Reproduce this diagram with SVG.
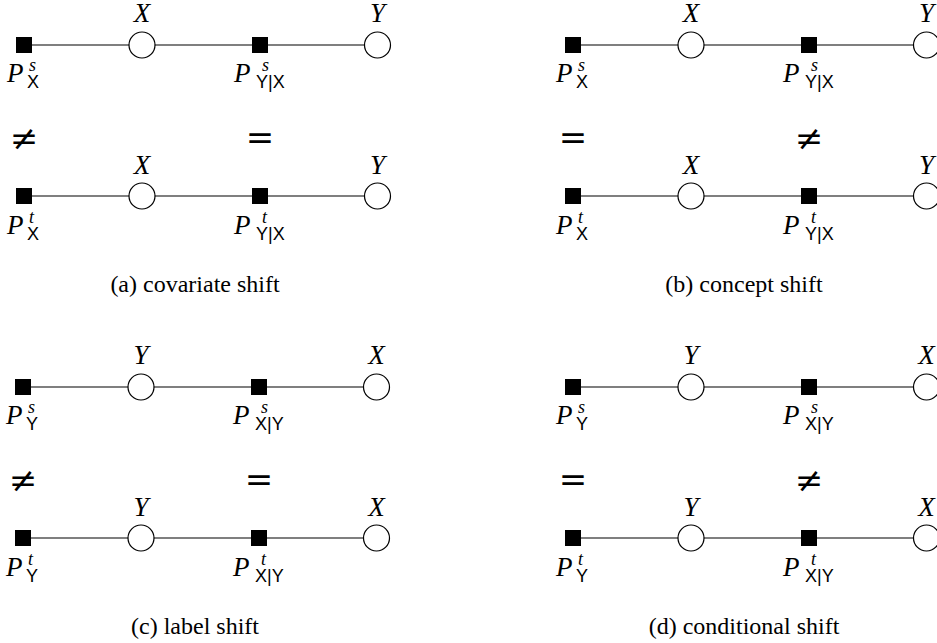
<svg xmlns="http://www.w3.org/2000/svg" width="937" height="643" viewBox="0 0 937 643">
<defs>
<style>
.ln{stroke:#000;stroke-width:1.1;fill:none}
.sq{fill:#000}
.ci{fill:#fff;stroke:#000;stroke-width:1.2}
.mi{font-family:"Liberation Serif",serif;font-style:italic;font-size:27px;fill:#000}
.mt{text-anchor:middle}
.sp{font-family:"Liberation Serif",serif;font-style:italic;font-size:18px;fill:#000}
.sb{font-family:"Liberation Sans",sans-serif;font-size:18px;fill:#000}
.rel{font-family:"DejaVu Serif",serif;font-size:34px;fill:#000;text-anchor:middle}
.cap{font-family:"Liberation Serif",serif;font-size:24px;fill:#000;text-anchor:middle}
</style>
</defs>
<rect width="937" height="643" fill="#fff"/>

<!-- Panel a -->
<g id="panel-a">
<g id="a-connectors">
<line class="ln" x1="24" y1="45" x2="364.5" y2="45"/>
<line class="ln" x1="24" y1="196" x2="364.5" y2="196"/>
</g>
<g id="a-ps1"><rect class="sq" x="16" y="37" width="16" height="16"/><text class="mi" x="7" y="82">P</text><text class="sp" x="29" y="71">s</text><text class="sb" x="27" y="88">X</text></g>
<g id="a-x1"><circle class="ci" cx="142" cy="45" r="13"/><text class="mi mt" x="142" y="22">X</text></g>
<g id="a-ps2"><rect class="sq" x="252" y="37" width="16" height="16"/><text class="mi" x="234" y="82">P</text><text class="sp" x="262" y="71">s</text><text class="sb" x="256" y="88">Y|X</text></g>
<g id="a-y1"><circle class="ci" cx="377.5" cy="45" r="13"/><text class="mi mt" x="377.5" y="22">Y</text></g>
<g id="a-rel"><text class="rel" x="24" y="150">≠</text><text class="rel" x="260" y="149">=</text></g>
<g id="a-pt1"><rect class="sq" x="16" y="188" width="16" height="16"/><text class="mi" x="7" y="234">P</text><text class="sp" x="29" y="223">t</text><text class="sb" x="27" y="240">X</text></g>
<g id="a-x2"><circle class="ci" cx="142" cy="196" r="13"/><text class="mi mt" x="142" y="174">X</text></g>
<g id="a-pt2"><rect class="sq" x="252" y="188" width="16" height="16"/><text class="mi" x="234" y="234">P</text><text class="sp" x="262" y="223">t</text><text class="sb" x="256" y="240">Y|X</text></g>
<g id="a-y2"><circle class="ci" cx="377.5" cy="196" r="13"/><text class="mi mt" x="377.5" y="174">Y</text></g>
<text class="cap" x="195" y="292">(a) covariate shift</text>
</g>

<!-- Panel b -->
<g id="panel-b" transform="translate(549,0)">
<g id="b-connectors">
<line class="ln" x1="24" y1="45" x2="364.5" y2="45"/>
<line class="ln" x1="24" y1="196" x2="364.5" y2="196"/>
</g>
<g id="b-ps1"><rect class="sq" x="16" y="37" width="16" height="16"/><text class="mi" x="7" y="82">P</text><text class="sp" x="29" y="71">s</text><text class="sb" x="27" y="88">X</text></g>
<g id="b-x1"><circle class="ci" cx="142" cy="45" r="13"/><text class="mi mt" x="142" y="22">X</text></g>
<g id="b-ps2"><rect class="sq" x="252" y="37" width="16" height="16"/><text class="mi" x="234" y="82">P</text><text class="sp" x="262" y="71">s</text><text class="sb" x="256" y="88">Y|X</text></g>
<g id="b-y1"><circle class="ci" cx="377.5" cy="45" r="13"/><text class="mi mt" x="377.5" y="22">Y</text></g>
<g id="b-rel"><text class="rel" x="24" y="149">=</text><text class="rel" x="260" y="150">≠</text></g>
<g id="b-pt1"><rect class="sq" x="16" y="188" width="16" height="16"/><text class="mi" x="7" y="234">P</text><text class="sp" x="29" y="223">t</text><text class="sb" x="27" y="240">X</text></g>
<g id="b-x2"><circle class="ci" cx="142" cy="196" r="13"/><text class="mi mt" x="142" y="174">X</text></g>
<g id="b-pt2"><rect class="sq" x="252" y="188" width="16" height="16"/><text class="mi" x="234" y="234">P</text><text class="sp" x="262" y="223">t</text><text class="sb" x="256" y="240">Y|X</text></g>
<g id="b-y2"><circle class="ci" cx="377.5" cy="196" r="13"/><text class="mi mt" x="377.5" y="174">Y</text></g>
<text class="cap" x="195" y="292">(b) concept shift</text>
</g>

<!-- Panel c -->
<g id="panel-c" transform="translate(-1,342)">
<g id="c-connectors">
<line class="ln" x1="24" y1="45" x2="364.5" y2="45"/>
<line class="ln" x1="24" y1="196" x2="364.5" y2="196"/>
</g>
<g id="c-ps1"><rect class="sq" x="16" y="37" width="16" height="16"/><text class="mi" x="7" y="82">P</text><text class="sp" x="29" y="71">s</text><text class="sb" x="27" y="88">Y</text></g>
<g id="c-y1"><circle class="ci" cx="142" cy="45" r="13"/><text class="mi mt" x="142" y="22">Y</text></g>
<g id="c-ps2"><rect class="sq" x="252" y="37" width="16" height="16"/><text class="mi" x="234" y="82">P</text><text class="sp" x="262" y="71">s</text><text class="sb" x="256" y="88">X|Y</text></g>
<g id="c-x1"><circle class="ci" cx="377.5" cy="45" r="13"/><text class="mi mt" x="377.5" y="22">X</text></g>
<g id="c-rel"><text class="rel" x="24" y="150">≠</text><text class="rel" x="260" y="149">=</text></g>
<g id="c-pt1"><rect class="sq" x="16" y="188" width="16" height="16"/><text class="mi" x="7" y="234">P</text><text class="sp" x="29" y="223">t</text><text class="sb" x="27" y="240">Y</text></g>
<g id="c-y2"><circle class="ci" cx="142" cy="196" r="13"/><text class="mi mt" x="142" y="174">Y</text></g>
<g id="c-pt2"><rect class="sq" x="252" y="188" width="16" height="16"/><text class="mi" x="234" y="234">P</text><text class="sp" x="262" y="223">t</text><text class="sb" x="256" y="240">X|Y</text></g>
<g id="c-x2"><circle class="ci" cx="377.5" cy="196" r="13"/><text class="mi mt" x="377.5" y="174">X</text></g>
<text class="cap" x="196" y="292">(c) label shift</text>
</g>

<!-- Panel d -->
<g id="panel-d" transform="translate(549,342)">
<g id="d-connectors">
<line class="ln" x1="24" y1="45" x2="364.5" y2="45"/>
<line class="ln" x1="24" y1="196" x2="364.5" y2="196"/>
</g>
<g id="d-ps1"><rect class="sq" x="16" y="37" width="16" height="16"/><text class="mi" x="7" y="82">P</text><text class="sp" x="29" y="71">s</text><text class="sb" x="27" y="88">Y</text></g>
<g id="d-y1"><circle class="ci" cx="142" cy="45" r="13"/><text class="mi mt" x="142" y="22">Y</text></g>
<g id="d-ps2"><rect class="sq" x="252" y="37" width="16" height="16"/><text class="mi" x="234" y="82">P</text><text class="sp" x="262" y="71">s</text><text class="sb" x="256" y="88">X|Y</text></g>
<g id="d-x1"><circle class="ci" cx="377.5" cy="45" r="13"/><text class="mi mt" x="377.5" y="22">X</text></g>
<g id="d-rel"><text class="rel" x="24" y="149">=</text><text class="rel" x="260" y="150">≠</text></g>
<g id="d-pt1"><rect class="sq" x="16" y="188" width="16" height="16"/><text class="mi" x="7" y="234">P</text><text class="sp" x="29" y="223">t</text><text class="sb" x="27" y="240">Y</text></g>
<g id="d-y2"><circle class="ci" cx="142" cy="196" r="13"/><text class="mi mt" x="142" y="174">Y</text></g>
<g id="d-pt2"><rect class="sq" x="252" y="188" width="16" height="16"/><text class="mi" x="234" y="234">P</text><text class="sp" x="262" y="223">t</text><text class="sb" x="256" y="240">X|Y</text></g>
<g id="d-x2"><circle class="ci" cx="377.5" cy="196" r="13"/><text class="mi mt" x="377.5" y="174">X</text></g>
<text class="cap" x="195" y="292">(d) conditional shift</text>
</g>
</svg>
